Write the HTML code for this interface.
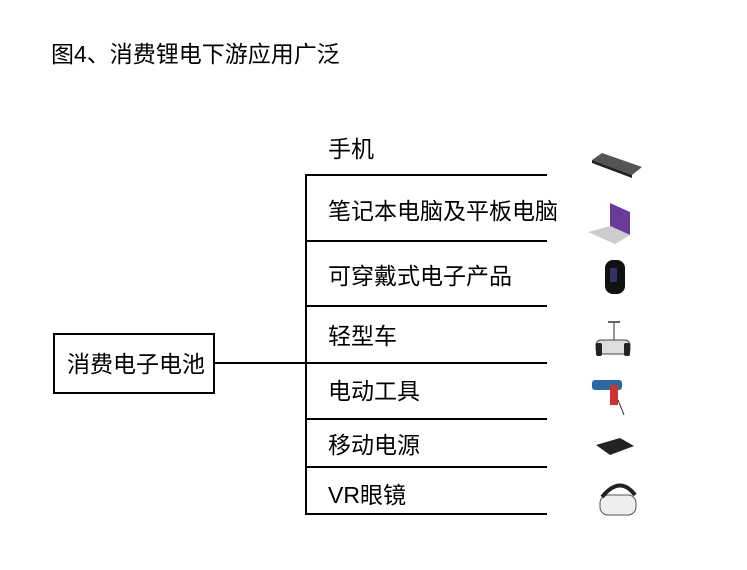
<!DOCTYPE html>
<html><head><meta charset="utf-8"><style>
body{margin:0;width:747px;height:570px;background:#fff;position:relative;overflow:hidden;font-family:"Liberation Sans","Noto Sans CJK SC",sans-serif;color:#000}
.t{position:absolute;font-size:23px;white-space:nowrap;line-height:1}
.h{position:absolute;height:2px;background:#000}
.v{position:absolute;width:2px;background:#000}
</style></head><body>
<div class="t" style="left:51px;top:43px">图4、消费锂电下游应用广泛</div>
<div style="position:absolute;left:53px;top:333px;width:158px;height:57px;border:2px solid #000"></div>
<div class="t" style="left:67px;top:353px">消费电子电池</div>
<div class="h" style="left:213px;top:362px;width:94px"></div>
<div class="v" style="left:305px;top:174px;height:341px"></div>
<div class="h" style="left:305px;top:174px;width:242px"></div>
<div class="h" style="left:305px;top:240px;width:242px"></div>
<div class="h" style="left:305px;top:305px;width:242px"></div>
<div class="h" style="left:305px;top:362px;width:242px"></div>
<div class="h" style="left:305px;top:418px;width:242px"></div>
<div class="h" style="left:305px;top:466px;width:242px"></div>
<div class="h" style="left:305px;top:513px;width:242px"></div>
<div class="t" style="left:328px;top:138px">手机</div>
<div class="t" style="left:328px;top:200px">笔记本电脑及平板电脑</div>
<div class="t" style="left:328px;top:265px">可穿戴式电子产品</div>
<div class="t" style="left:328px;top:325px">轻型车</div>
<div class="t" style="left:328px;top:380px">电动工具</div>
<div class="t" style="left:328px;top:434px">移动电源</div>
<div class="t" style="left:328px;top:484px">VR眼镜</div>
<svg style="position:absolute;left:580px;top:140px" width="80" height="390">
<polygon points="12,20 22,13 62,27 52,35" fill="#555"/>
<polygon points="12,20 52,35 52,38 12,23" fill="#222"/>
<polygon points="30,63 50,72 50,95 30,86" fill="#6a3c9a"/>
<polygon points="8,92 30,86 50,95 35,104" fill="#ccc"/>
<rect x="25" y="120" width="20" height="34" rx="8" fill="#111"/>
<rect x="30" y="128" width="7" height="14" fill="#336"/>
<line x1="34" y1="182" x2="34" y2="205" stroke="#999" stroke-width="2"/>
<line x1="28" y1="182" x2="40" y2="182" stroke="#666" stroke-width="2"/>
<rect x="16" y="200" width="34" height="14" rx="5" fill="#ddd" stroke="#444"/>
<rect x="16" y="203" width="6" height="13" rx="2" fill="#222"/><rect x="44" y="203" width="6" height="13" rx="2" fill="#222"/>
<rect x="12" y="240" width="30" height="10" rx="3" fill="#2a6aa0"/>
<rect x="30" y="245" width="8" height="20" fill="#c33"/>
<line x1="38" y1="260" x2="44" y2="275" stroke="#222"/>
<polygon points="16,305 40,298 54,306 30,315" fill="#222"/>
<rect x="20" y="355" width="36" height="20" rx="8" fill="#eee" stroke="#555"/>
<path d="M22 357 Q40 335 55 355" stroke="#222" stroke-width="4" fill="none"/>
</svg>
</body></html>
